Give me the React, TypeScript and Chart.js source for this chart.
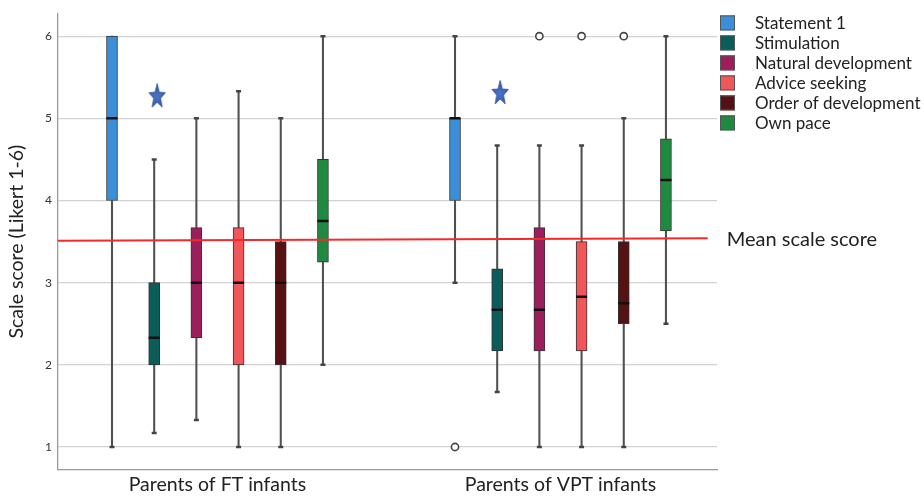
import React, { useEffect, useRef } from "react";
import { Chart, registerables } from "chart.js";

Chart.register(...registerables);

// ---------- data ----------
const groups = ["Parents of FT infants", "Parents of VPT infants"];
const seriesNames = [
  "Statement 1",
  "Stimulation",
  "Natural development",
  "Advice seeking",
  "Order of development",
  "Own pace",
];

// FT group (series order as above)
const minFT = [1, 1.17, 1.33, 1, 1, 2];
const q1FT = [4, 2, 2.33, 2, 2, 3.25];
const medianFT = [5, 2.33, 3, 3, 3, 3.75];
const q3FT = [6, 3, 3.67, 3.67, 3.5, 4.5];
const maxFT = [6, 4.5, 5, 5.33, 5, 6];
const outliersFT: number[][] = [[], [], [], [], [], []];

// VPT group
const minVPT = [3, 1.67, 1, 1, 1, 2.5];
const q1VPT = [4, 2.17, 2.17, 2.17, 2.5, 3.63];
const medianVPT = [5, 2.67, 2.67, 2.83, 2.75, 4.25];
const q3VPT = [5, 3.17, 3.67, 3.5, 3.5, 4.75];
const maxVPT = [6, 4.67, 4.67, 4.67, 5, 6];
const outliersVPT: number[][] = [[1], [], [6], [6], [6], []];

// significance stars (above "Stimulation" in each group)
const starValues = [5.27, 5.31];
// mean scale score line (start value, end value)
const meanScore = [3.51, 3.54];
const meanLabel = "Mean scale score";

const yTicks = [1, 2, 3, 4, 5, 6];
const yTitle = "Scale score (Likert 1-6)";

// ---------- layout / style ----------
const seriesColors = ["#3b8fd8", "#0b5d5c", "#9d1e5c", "#f0565a", "#561213", "#1f8a3f"];
const groupOffsets = [0, 8.13];
const xMin = -1.28;
const xMax = 14.34;
const meanLineEnd = 14.12;
const starShift = 0.07;
const starSeries = 1;
const FONT = "Lato";

const minAll = [minFT, minVPT];
const q1All = [q1FT, q1VPT];
const medAll = [medianFT, medianVPT];
const q3All = [q3FT, q3VPT];
const maxAll = [maxFT, maxVPT];
const outAll = [outliersFT, outliersVPT];

const pos = (g: number, s: number) => groupOffsets[g] + s;
const groupCenters = groups.map((_, g) => groupOffsets[g] + (seriesNames.length - 1) / 2);

function makeStar(): HTMLCanvasElement {
  const c = document.createElement("canvas");
  const w = 18, h = 26;
  c.width = w;
  c.height = h;
  const ctx = c.getContext("2d")!;
  const cx = w / 2, cy = 13.5;
  const rx = 8.6, ry = 13;
  ctx.beginPath();
  for (let k = 0; k < 10; k++) {
    const a = -Math.PI / 2 + (k * Math.PI) / 5;
    const r = k % 2 === 0 ? 1 : 0.42;
    const px = cx + Math.cos(a) * r * rx;
    const py = cy + Math.sin(a) * r * ry;
    if (k === 0) ctx.moveTo(px, py);
    else ctx.lineTo(px, py);
  }
  ctx.closePath();
  const grad = ctx.createRadialGradient(cx, cy, 1, cx, cy, 12);
  grad.addColorStop(0, "#4a72c0");
  grad.addColorStop(1, "#2f55a4");
  ctx.fillStyle = grad;
  ctx.fill();
  ctx.strokeStyle = "#2e4f98";
  ctx.lineWidth = 0.8;
  ctx.stroke();
  return c;
}

const legendPlugin = {
  id: "boxLegend",
  afterDraw(chart: any) {
    const { ctx, chartArea } = chart;
    const bx = chartArea.right + 3;
    ctx.save();
    ctx.font = `17px ${FONT}`;
    ctx.textBaseline = "middle";
    ctx.textAlign = "left";
    seriesNames.forEach((name, i) => {
      const cy = chartArea.top + 9.7 + i * 20;
      ctx.fillStyle = seriesColors[i];
      ctx.fillRect(bx, cy - 7.5, 15, 15);
      ctx.strokeStyle = "#555";
      ctx.lineWidth = 1;
      ctx.strokeRect(bx + 0.5, cy - 7, 14, 14);
      ctx.fillStyle = "#222";
      ctx.fillText(name, bx + 35, cy + 1);
    });
    ctx.restore();
  },
};

const meanLabelPlugin = {
  id: "meanLabel",
  afterDatasetsDraw(chart: any) {
    const idx = chart.data.datasets.findIndex((d: any) => d.id === "mean");
    const meta = chart.getDatasetMeta(idx);
    const last = meta.data[meta.data.length - 1];
    if (!last) return;
    const { ctx } = chart;
    ctx.save();
    ctx.font = `20px ${FONT}`;
    ctx.fillStyle = "#222";
    ctx.textBaseline = "middle";
    ctx.textAlign = "left";
    ctx.fillText(meanLabel, last.x + 19, last.y + 1);
    ctx.restore();
  },
};

export default function App() {
  const ref = useRef<HTMLCanvasElement>(null);

  useEffect(() => {
    const star = makeStar();

    const boxSets = seriesNames.map((name, s) => ({
      type: "bar" as const,
      label: name,
      data: groups.map((_, g) => ({ x: pos(g, s), y: [q1All[g][s], q3All[g][s]] })),
      backgroundColor: seriesColors[s],
      borderColor: "#333",
      borderWidth: 1,
      borderSkipped: false,
      barThickness: 11,
      grouped: false,
      order: 2,
    }));

    const whiskerData: any[] = [];
    const capData: any[] = [];
    const medianData: any[] = [];
    const outlierData: any[] = [];
    groups.forEach((_, g) => {
      seriesNames.forEach((__, s) => {
        const x = pos(g, s);
        whiskerData.push({ x, y: [minAll[g][s], q1All[g][s]] });
        whiskerData.push({ x, y: [q3All[g][s], maxAll[g][s]] });
        if (minAll[g][s] < q1All[g][s]) capData.push({ x, y: minAll[g][s] });
        if (maxAll[g][s] > q3All[g][s]) capData.push({ x, y: maxAll[g][s] });
        medianData.push({ x, y: medAll[g][s] });
        outAll[g][s].forEach((v) => outlierData.push({ x, y: v }));
      });
    });

    const datasets: any[] = [
      ...boxSets,
      {
        type: "bar",
        label: "whiskers",
        data: whiskerData,
        backgroundColor: "#505050",
        borderWidth: 0,
        barThickness: 1.4,
        grouped: false,
        order: 3,
      },
      {
        type: "scatter",
        label: "caps",
        data: capData,
        pointStyle: "line",
        radius: 2.5,
        borderWidth: 2.5,
        borderColor: "#444",
        order: 1,
      },
      {
        type: "scatter",
        label: "medians",
        data: medianData,
        pointStyle: "line",
        radius: 5.5,
        borderWidth: 2.5,
        borderColor: "#111",
        order: 1,
      },
      {
        type: "scatter",
        label: "outliers",
        data: outlierData,
        pointStyle: "circle",
        radius: 3.6,
        backgroundColor: "#fff",
        borderColor: "#444",
        borderWidth: 1.6,
        order: 1,
      },
      {
        type: "scatter",
        label: "stars",
        data: groups.map((_, g) => ({ x: pos(g, starSeries) + starShift, y: starValues[g] })),
        pointStyle: star,
        order: 1,
      },
      {
        type: "line",
        id: "mean",
        label: "mean",
        data: [
          { x: xMin, y: meanScore[0] },
          { x: meanLineEnd, y: meanScore[1] },
        ],
        borderColor: "#f42a2a",
        borderWidth: 2,
        pointRadius: 0,
        order: 0,
      },
    ];

    const chart = new Chart(ref.current!, {
      type: "bar",
      data: { datasets },
      options: {
        animation: false,
        responsive: true,
        maintainAspectRatio: false,
        events: [],
        layout: { padding: { left: 0, top: 12, right: 207, bottom: 0 } },
        plugins: {
          legend: { display: false },
          tooltip: { enabled: false },
        },
        scales: {
          x: {
            type: "linear",
            offset: false,
            min: xMin,
            max: xMax,
            afterBuildTicks: (sc: any) => {
              sc.ticks = groupCenters.map((v) => ({ value: v }));
            },
            afterFit: (sc: any) => {
              sc.height = 26;
            },
            ticks: {
              autoSkip: false,
              maxRotation: 0,
              padding: 3,
              color: "#222",
              font: { family: FONT, size: 19.5 },
              callback: (_v: any, i: number) => groups[i],
            },
            grid: { display: false, drawTicks: false, offset: false },
            border: { display: true, color: "#999", width: 1.3 },
          },
          y: {
            type: "linear",
            min: 0.72,
            max: 6.28,
            afterBuildTicks: (sc: any) => {
              sc.ticks = yTicks.map((v) => ({ value: v }));
            },
            afterFit: (sc: any) => {
              sc.width = 58;
            },
            ticks: {
              padding: 6,
              color: "#333",
              font: { family: FONT, size: 12 },
            },
            grid: { color: "#d2d2d2", lineWidth: 1.3, drawTicks: false },
            border: { display: true, color: "#999", width: 1.3 },
            title: {
              display: true,
              text: yTitle,
              color: "#222",
              font: { family: FONT, size: 19.5 },
              padding: { top: 5, bottom: 0 },
            },
          },
        },
      },
      plugins: [legendPlugin, meanLabelPlugin],
    } as any);
    return () => chart.destroy();
  }, []);

  return (
    <div style={{ position: "fixed", left: 0, top: 0, width: 924, height: 496, background: "#fff" }}>
      <canvas ref={ref} />
    </div>
  );
}
